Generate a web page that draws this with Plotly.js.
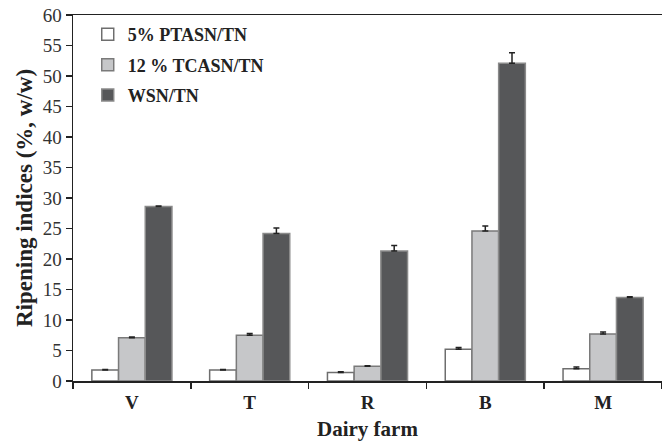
<!DOCTYPE html>
<html>
<head>
<meta charset="utf-8">
<script src="https://cdn.plot.ly/plotly-3.0.1.min.js"></script>
<style>html,body{margin:0;padding:0;background:#fff;}#chart{width:662px;height:442px;}</style>
</head>
<body>
<div id="chart"></div>
<script>
const farms = ["V", "T", "R", "B", "M"];
const seriesNames = ["5% PTASN/TN", "12 % TCASN/TN", "WSN/TN"];
const ptasn = [1.8, 1.8, 1.4, 5.2, 2.0];
const ptasnErr = [0.1, 0.1, 0.1, 0.3, 0.3];
const tcasn = [7.1, 7.5, 2.4, 24.6, 7.7];
const tcasnErr = [0.1, 0.3, 0.1, 0.8, 0.35];
const wsn = [28.6, 24.2, 21.3, 52.1, 13.7];
const wsnErr = [0.1, 0.9, 0.9, 1.7, 0.1];
const yTicks = [0, 5, 10, 15, 20, 25, 30, 35, 40, 45, 50, 55, 60];

const fills = ["#ffffff", "#c6c7c9", "#565759"];
const lines = ["#6e6e6e", "#7a7a7a", "#8a8a8a"];
const vals = [ptasn, tcasn, wsn];
const errs = [ptasnErr, tcasnErr, wsnErr];

const traces = vals.map((v, i) => ({
  type: "bar",
  name: seriesNames[i],
  legendgroup: "g" + i,
  x: farms,
  y: v,
  marker: {color: fills[i], line: {color: lines[i], width: 1.5}},
  error_y: {type: "data", symmetric: false, array: errs[i], arrayminus: errs[i].map(() => 0),
            visible: true, color: "#222", thickness: 1.5, width: 3}
}));

const layout = {
  width: 662, height: 442,
  margin: {l: 73, r: 0, t: 15, b: 61},
  paper_bgcolor: "#fff", plot_bgcolor: "#fff",
  barmode: "group",
  bargap: 0.32, bargroupgap: 0,
  font: {family: "Liberation Serif, Times New Roman, serif", color: "#222"},
  showlegend: true,
  legend: {
    x: 0.025, y: 0.997, xanchor: "left", yanchor: "top",
    font: {family: "Liberation Serif, serif", size: 18, color: "#222", weight: "bold"},
    bgcolor: "rgba(0,0,0,0)", tracegroupgap: 4, itemwidth: 30
  },
  xaxis: {
    type: "category",
    showline: true, linecolor: "#222", linewidth: 1.5, mirror: true,
    ticks: "outside", ticklen: 6, tickwidth: 1.5, tickcolor: "#222",
    tickson: "boundaries", ticklabelstandoff: 4,
    tickfont: {family: "Liberation Serif, serif", size: 19, color: "#222", weight: "bold"},
    title: {text: "<b>Dairy farm</b>", font: {family: "Liberation Serif, serif", size: 21, color: "#222"}, standoff: 9},
    showgrid: false, zeroline: false
  },
  yaxis: {
    range: [0, 60],
    tickvals: yTicks,
    showline: true, linecolor: "#222", linewidth: 1.5,
    ticks: "outside", ticklen: 6, tickwidth: 1.5, tickcolor: "#222",
    tickfont: {family: "Liberation Serif, serif", size: 19, color: "#333"},
    title: {text: "<b>Ripening indices (%, w/w)</b>", font: {family: "Liberation Serif, serif", size: 23, color: "#222"}, standoff: 3},
    showgrid: false, zeroline: false
  }
};

Plotly.newPlot("chart", traces, layout, {staticPlot: true, displayModeBar: false});
</script>
</body>
</html>
